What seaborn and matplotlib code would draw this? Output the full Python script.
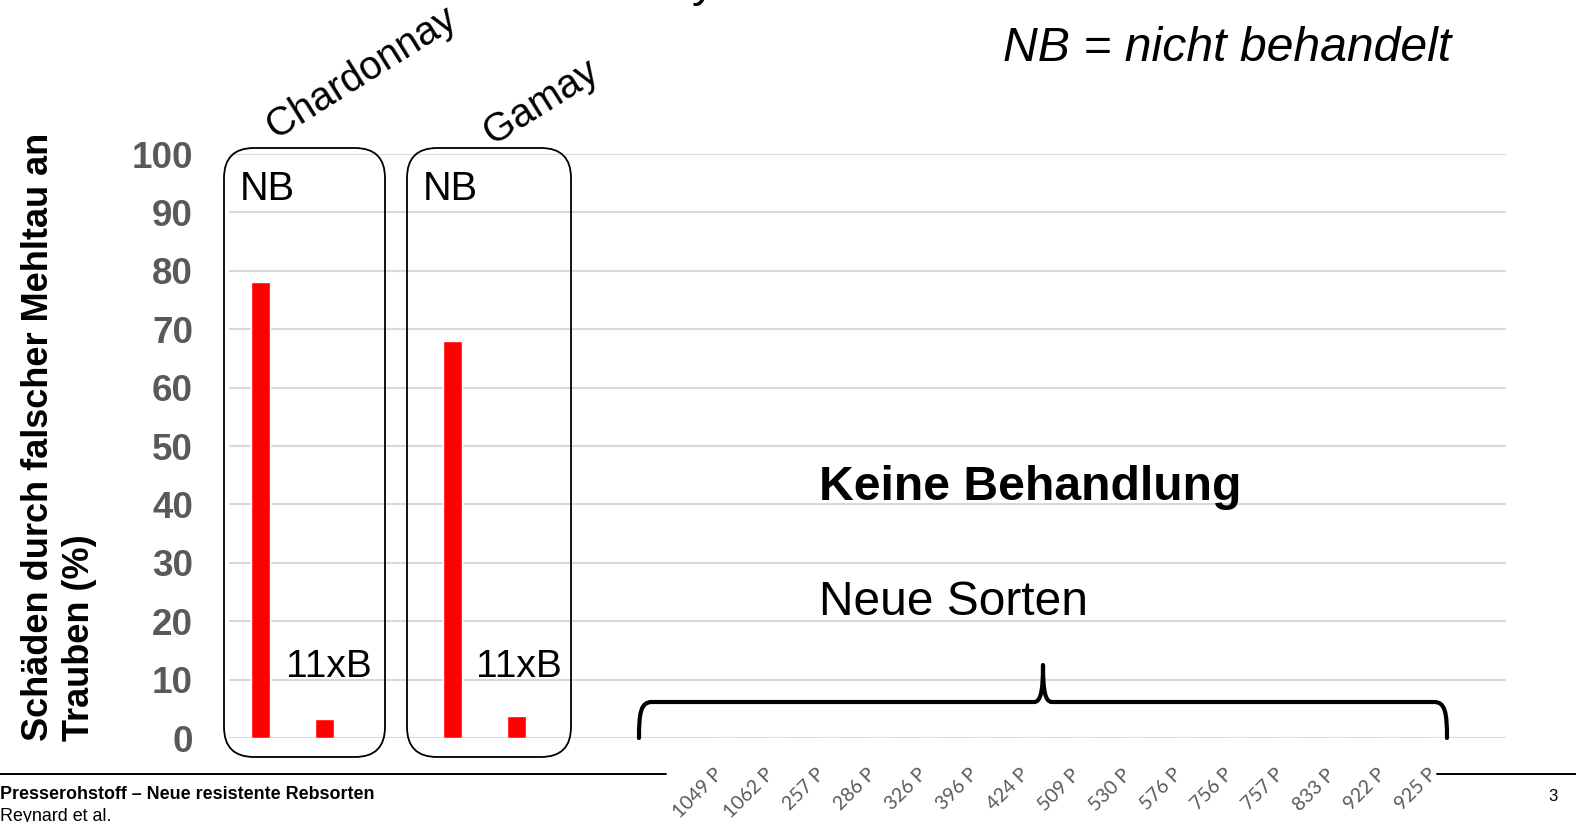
import numpy as np
import pandas as pd
import seaborn as sns
import matplotlib.pyplot as plt
from matplotlib.patches import FancyBboxPatch, PathPatch
from matplotlib.path import Path
from matplotlib.transforms import Affine2D

# Standardsorten (NB = nicht behandelt, 11xB = 11 Behandlungen)
kontrollen = ['Chardonnay NB', 'Chardonnay 11xB', 'Gamay NB', 'Gamay 11xB']
kontrollen_schaden = [78, 3.2, 68, 3.7]

# Neue resistente Sorten, keine Behandlung
sorten = ['1049 P', '1062 P', '257 P', '286 P', '326 P', '396 P', '424 P', '509 P',
          '530 P', '576 P', '756 P', '757 P', '833 P', '922 P', '925 P']
sorten_schaden = [0, 0, 0, 0, 0, 0, 0, 0, 0, 0, 0, 0, 0, 0, 0]

y_ticks = [0, 10, 20, 30, 40, 50, 60, 70, 80, 90, 100]

W, H = 1576, 822

sns.set_style('white')
plt.rcParams['font.family'] = ['Liberation Sans', 'DejaVu Sans']
plt.rcParams['text.color'] = 'black'

fig = plt.figure(figsize=(W / 100, H / 100), dpi=100)
ax = fig.add_axes([229 / W, (H - 738) / H, (1506 - 229) / W, (738 - 154) / H])

# pixel coordinates (from top-left) for the slide decorations
px = Affine2D().scale(1 / W, -1 / H).translate(0, 1) + fig.transFigure

# x layout: one unit = 64 px, gap between the two control pairs,
# new varieties sit a bit closer together
unit = 64
ctrl_pos = np.arange(len(kontrollen)) + np.repeat([0, 1], 2)
step = 51 / unit
neu_pos = 7.27 + step * np.arange(len(sorten))

df = pd.DataFrame({
    'sorte': kontrollen + sorten,
    'schaden': kontrollen_schaden + sorten_schaden,
    'pos': np.concatenate([ctrl_pos, neu_pos]),
})

bar_w = 19.5 / unit
sns.barplot(data=df, x='pos', y='schaden', native_scale=True, color='#ff0000',
            saturation=1, width=bar_w / step, errorbar=None, ax=ax)

ax.set_xlim(-31.5 / unit, (1506 - 260.5) / unit)
ax.set_ylim(0, 100)
ax.set_yticks(y_ticks)
ax.set_yticklabels([str(t) for t in y_ticks], fontsize=26.5, fontweight='bold', color='#595959')
ax.set_xticks(neu_pos)
ax.set_xticklabels(sorten, rotation=45, ha='right', fontsize=14,
                   family=['Lato', 'DejaVu Sans'], color='#595959')
ax.tick_params(axis='y', length=0, pad=26)
ax.tick_params(axis='x', length=0, pad=20)
ax.set_xlabel('')
ax.set_ylabel('')
ax.grid(axis='y', color='#d9d9d9', lw=1.5)
ax.set_axisbelow(True)
for s in ax.spines.values():
    s.set_visible(False)

# y label, two lines aligned at the bottom
fig.text(59 / W, (H - 741) / H, 'Schäden durch falscher Mehltau an\nTrauben (%)',
         rotation=90, ha='center', va='bottom', multialignment='left',
         fontsize=26, fontweight='bold')

# rounded boxes around the controls
for x0, x1 in [(224, 385), (407, 571)]:
    box = FancyBboxPatch((x0, 148), x1 - x0, 757 - 148,
                         boxstyle='round,pad=0,rounding_size=30',
                         fc='none', ec='black', lw=1.3, transform=px)
    fig.add_artist(box)

# box labels
for x in [240, 423]:
    fig.text(x, 200, 'NB', transform=px, fontsize=28.5, va='baseline')
for x in [286, 476]:
    fig.text(x, 677, '11xB', transform=px, fontsize=28, va='baseline')

fig.text(276, 139, 'Chardonnay', transform=px, fontsize=28.5, rotation=32,
         rotation_mode='anchor', ha='left', va='baseline')
fig.text(493, 145, 'Gamay', transform=px, fontsize=28.5, rotation=32,
         rotation_mode='anchor', ha='left', va='baseline')

# cut-off title fragment at the very top
fig.text(692, -4, 'y', transform=px, fontsize=34, va='baseline')

fig.text(1003, 61, 'NB = nicht behandelt', transform=px, fontsize=34.7,
         style='italic', va='baseline')
fig.text(819, 500, 'Keine Behandlung', transform=px, fontsize=34.7,
         fontweight='bold', va='baseline')
fig.text(819, 615, 'Neue Sorten', transform=px, fontsize=34.5, va='baseline')

# curly brace over the new varieties
verts = [(639, 738), (639, 712), (641, 702), (652, 702),
         (1034, 702),
         (1041, 702), (1043, 690), (1043, 665),
         (1043, 690), (1045, 702), (1052, 702),
         (1434, 702),
         (1445, 702), (1447, 712), (1447, 738)]
codes = [Path.MOVETO, Path.CURVE4, Path.CURVE4, Path.CURVE4,
         Path.LINETO,
         Path.CURVE4, Path.CURVE4, Path.CURVE4,
         Path.CURVE4, Path.CURVE4, Path.CURVE4,
         Path.LINETO,
         Path.CURVE4, Path.CURVE4, Path.CURVE4]
fig.add_artist(PathPatch(Path(verts, codes), fc='none', ec='black', lw=3,
                         capstyle='round', joinstyle='round', transform=px))

# slide footer
fig.add_artist(plt.Line2D([0, 666], [774, 774], color='black', lw=1.4, transform=px))
fig.add_artist(plt.Line2D([1437, W], [774, 774], color='black', lw=1.4, transform=px))
fig.text(0, 799, 'Presserohstoff – Neue resistente Rebsorten', transform=px,
         fontsize=12.9, fontweight='bold', va='baseline')
fig.text(0, 821, 'Reynard et al.', transform=px, fontsize=12.9, va='baseline')
fig.text(1553, 796, '3', transform=px, fontsize=12, ha='center', va='center')

fig.savefig('out.png', dpi=100)
